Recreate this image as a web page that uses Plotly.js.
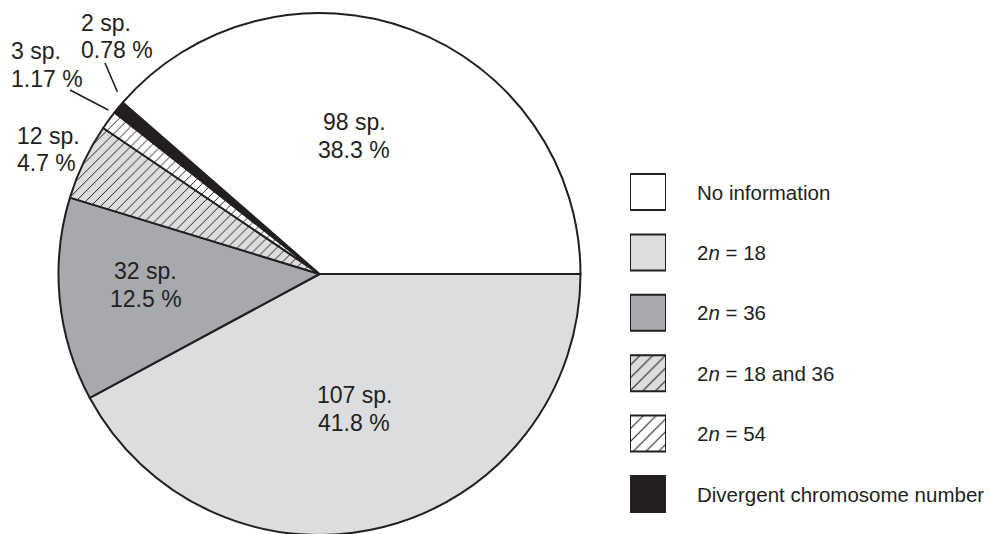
<!DOCTYPE html>
<html>
<head>
<meta charset="utf-8">
<script src="https://cdn.plot.ly/plotly-3.0.1.min.js"></script>
<style>
html,body{margin:0;padding:0;overflow:hidden;background:#fff;}
#chart{width:990px;height:540px;}
</style>
</head>
<body>
<div id="chart"></div>
<script>
// ---- data (legend order) ----
const categories = ['No information', '2<i>n</i> = 18', '2<i>n</i> = 36', '2<i>n</i> = 18 and 36', '2<i>n</i> = 54', 'Divergent chromosome number'];
const species = [98, 107, 32, 12, 3, 2];
const percents = ['38.3', '41.8', '12.5', '4.7', '1.17', '0.78'];

// ---- styles ----
const INK = '#231f20';
const fills = ['#ffffff', '#dcddde', '#a7a9ac', '#dcddde', '#ffffff', INK];
const hatch = ['', '', '', '/', '/', ''];
const FONT = 'Liberation Sans, Arial, Helvetica, sans-serif';

const W = 990, H = 540;
const px = x => x / W;
const py = y => 1 - y / H;

// pie order: clockwise from 3 o'clock
const order = [1, 2, 3, 4, 5, 0];

const pie = {
  type: 'pie',
  values: order.map(i => species[i]),
  labels: order.map(i => categories[i]),
  sort: false,
  direction: 'clockwise',
  rotation: 90,
  textinfo: 'none',
  hoverinfo: 'none',
  showlegend: false,
  marker: {
    colors: order.map(i => fills[i]),
    line: {color: INK, width: 2},
    pattern: {
      shape: order.map(i => hatch[i]),
      bgcolor: order.map(i => fills[i]),
      fgcolor: INK,
      size: 7,
      solidity: 0.14
    }
  },
  domain: {x: [px(58.5), px(580.5)], y: [py(535), py(13)]}
};

// legend swatches: one bar per category on a small hidden axis
const swatches = categories.map((c, i) => {
  const m = {color: fills[i], line: {color: INK, width: 2}};
  if (hatch[i]) m.pattern = {shape: hatch[i], bgcolor: fills[i], fgcolor: INK, size: 9, solidity: 0.12};
  return {
    type: 'bar', orientation: 'h',
    y: [i], x: [1], width: 36 / 60.4,
    hoverinfo: 'none', showlegend: false, marker: m
  };
});

// label placement (pixel positions of text centres)
const labelPos = [
  {x: 354, y1: 121, y2: 148.5, anchor: 'center'},     // No information
  {x: 354, y1: 394, y2: 422, anchor: 'center'},       // 2n = 18
  {x: 145.5, y1: 269.5, y2: 298.3, anchor: 'center'}, // 2n = 36
  {x: 15, y1: 135, y2: 161.5, anchor: 'left'},        // 2n = 18 and 36
  {x: 9, y1: 50, y2: 77.7, anchor: 'left'},           // 2n = 54
  {x: 79, y1: 22.3, y2: 49, anchor: 'left'}           // divergent
];

const annotations = [];
species.forEach((s, i) => {
  const p = labelPos[i];
  [[s + ' sp.', p.y1], [percents[i] + ' %', p.y2]].forEach(([t, y]) => {
    annotations.push({
      xref: 'paper', yref: 'paper', x: px(p.x), y: py(y + 1),
      xanchor: p.anchor, yanchor: 'middle', showarrow: false,
      text: t, font: {family: FONT, size: 23, color: INK}
    });
  });
});
categories.forEach((c, i) => {
  annotations.push({
    xref: 'paper', yref: 'y', x: px(694.5), y: i,
    xanchor: 'left', yanchor: 'middle', showarrow: false,
    text: c, font: {family: FONT, size: 20.5, color: INK}
  });
});

const leader = (x0, y0, x1, y1) => ({
  type: 'line', xref: 'paper', yref: 'paper',
  x0: px(x0), y0: py(y0), x1: px(x1), y1: py(y1),
  line: {color: INK, width: 1.6}
});

const layout = {
  width: W, height: H,
  margin: {l: 0, r: 0, t: 0, b: 0},
  paper_bgcolor: '#fff', plot_bgcolor: 'rgba(0,0,0,0)',
  showlegend: false,
  barmode: 'overlay',
  font: {family: FONT, color: INK},
  xaxis: {domain: [px(630), px(666)], range: [0, 1], showgrid: false, zeroline: false,
          showline: false, showticklabels: false, ticks: '', fixedrange: true},
  yaxis: {domain: [py(524.2), py(161.8)], range: [5.5, -0.5], showgrid: false, zeroline: false,
          showline: false, showticklabels: false, ticks: '', fixedrange: true},
  annotations: annotations,
  shapes: [leader(105, 63, 117.3, 91.7), leader(70, 90, 108.3, 110)]
};

Plotly.newPlot('chart', [pie].concat(swatches), layout, {displayModeBar: false, staticPlot: true});
</script>
</body>
</html>
